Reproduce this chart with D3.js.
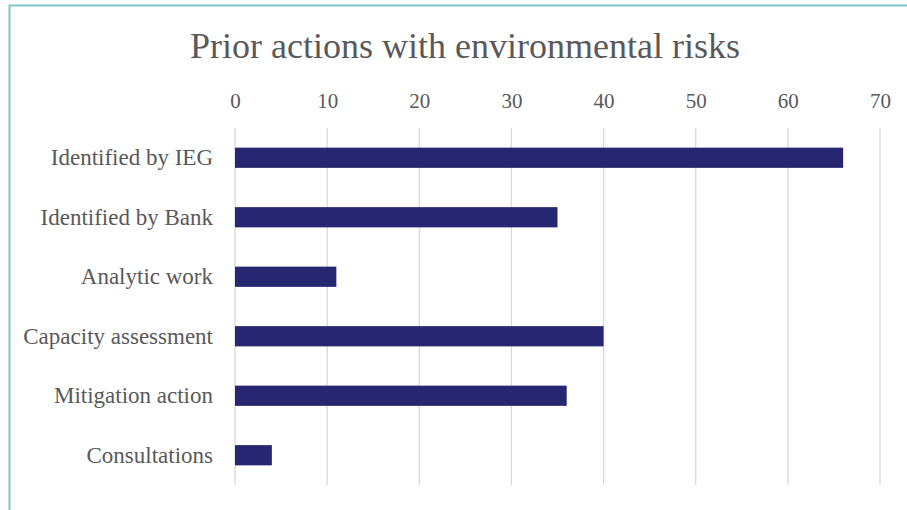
<!DOCTYPE html>
<html>
<head>
<meta charset="utf-8">
<script src="https://cdn.jsdelivr.net/npm/d3@7"></script>
<style>
  html, body { margin: 0; padding: 0; background: #ffffff; }
  svg { display: block; }
</style>
</head>
<body>
<svg id="chart" width="907" height="510"></svg>
<script>
// Prior actions with environmental risks — counts by category
const categories = [
  "Identified by IEG",
  "Identified by Bank",
  "Analytic work",
  "Capacity assessment",
  "Mitigation action",
  "Consultations"
];
const values = [66, 35, 11, 40, 36, 4];
const tickValues = [0, 10, 20, 30, 40, 50, 60, 70];
const chartTitle = "Prior actions with environmental risks";

const W = 907, H = 510;
const fontFamily = "'Liberation Serif', 'DejaVu Serif', serif";
const textColor = "#595959";
const barColor = "#262770";
const gridColor = "#d9d9d9";

const svg = d3.select("#chart");

// outer frame (left and top edges visible)
svg.append("rect")
  .attr("x", 9.5).attr("y", 5.5)
  .attr("width", W + 20).attr("height", H + 20)
  .attr("fill", "none")
  .attr("stroke", "#7fc5c9")
  .attr("stroke-width", 2);

const plot = { left: 235, right: 880, top: 128, bottom: 485 };

const x = d3.scaleLinear()
  .domain([0, 70])
  .range([plot.left, plot.right]);

const y = d3.scaleBand()
  .domain(categories)
  .range([plot.top, plot.bottom])
  .paddingInner(0.66)
  .paddingOuter(0.33);

// title
svg.append("text")
  .attr("x", 465).attr("y", 58)
  .attr("text-anchor", "middle")
  .attr("font-family", fontFamily)
  .attr("font-size", 36)
  .attr("fill", textColor)
  .text(chartTitle);

// vertical gridlines
svg.append("g")
  .selectAll("line")
  .data(tickValues)
  .join("line")
  .attr("x1", d => x(d)).attr("x2", d => x(d))
  .attr("y1", plot.top).attr("y2", plot.bottom)
  .attr("stroke", gridColor)
  .attr("stroke-width", 1.3);

// top value axis (labels only)
const xAxis = d3.axisTop(x)
  .tickValues(tickValues)
  .tickSize(0)
  .tickPadding(0);

svg.append("g")
  .attr("transform", `translate(0, 108)`)
  .call(xAxis)
  .call(g => g.select(".domain").remove())
  .call(g => g.selectAll("text")
    .attr("font-family", fontFamily)
    .attr("font-size", 21)
    .attr("fill", textColor)
    .attr("dy", 0));

// category axis
const yAxis = d3.axisLeft(y).tickSize(0).tickPadding(22);
svg.append("g")
  .attr("transform", `translate(${plot.left}, 0)`)
  .call(yAxis)
  .call(g => g.select(".domain").remove())
  .call(g => g.selectAll("text")
    .attr("font-family", fontFamily)
    .attr("font-size", 23)
    .attr("fill", textColor));

// bars
svg.append("g")
  .selectAll("rect")
  .data(categories.map((c, i) => ({ c, v: values[i] })))
  .join("rect")
  .attr("x", x(0))
  .attr("y", d => y(d.c))
  .attr("width", d => x(d.v) - x(0))
  .attr("height", y.bandwidth())
  .attr("fill", barColor);
</script>
</body>
</html>
